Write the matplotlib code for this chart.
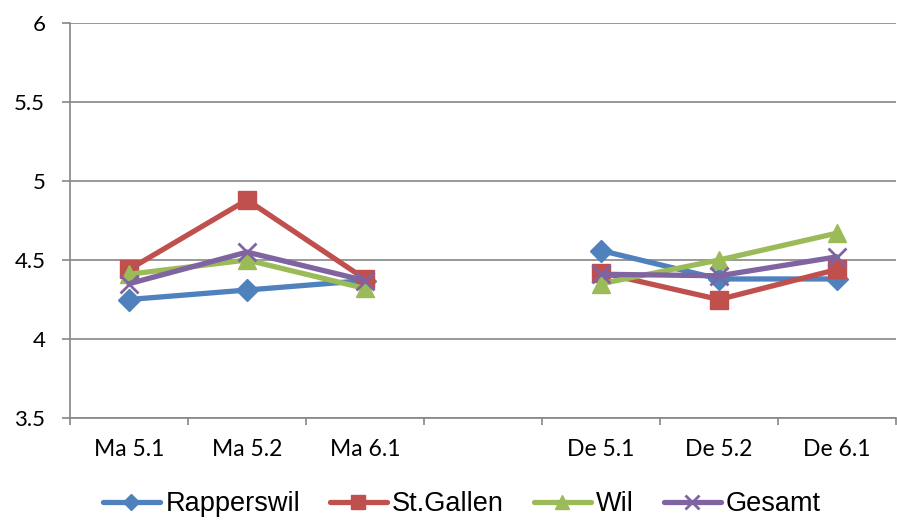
import numpy as np
import matplotlib
matplotlib.use("Agg")
import matplotlib.pyplot as plt

# categories (the empty one is the gap between the two groups)
categories = ["Ma 5.1", "Ma 5.2", "Ma 6.1", "", "De 5.1", "De 5.2", "De 6.1"]

rapperswil = [4.25, 4.31, 4.37, np.nan, 4.56, 4.38, 4.38]
st_gallen = [4.44, 4.88, 4.38, np.nan, 4.42, 4.25, 4.44]
wil = [4.41, 4.50, 4.32, np.nan, 4.35, 4.50, 4.67]
gesamt = [4.35, 4.55, 4.37, np.nan, 4.41, 4.40, 4.52]

y_ticks = [3.5, 4, 4.5, 5, 5.5, 6]
y_labels = ["3.5", "4", "4.5", "5", "5.5", "6"]

series = [
    ("Rapperswil", rapperswil, "#4F81BD", "D", 11),
    ("St.Gallen", st_gallen, "#C0504D", "s", 12.5),
    ("Wil", wil, "#9BBB59", "^", 13),
    ("Gesamt", gesamt, "#8064A2", "x", 13),
]

fig = plt.figure(figsize=(8.97, 5.21), dpi=100)
W, H = 897, 521
ax = fig.add_axes([70 / W, 1 - 418 / H, (896 - 70) / W, (418 - 23) / H])

x = np.arange(len(categories))
for name, vals, color, marker, ms in series:
    ax.plot(x, vals, color=color, linewidth=3.8, marker=marker, markersize=ms,
            markeredgewidth=2 if marker == "x" else 1, markeredgecolor=color,
            markerfacecolor=color, label=name, solid_capstyle="round", zorder=3)

ax.set_xlim(-0.5, len(categories) - 0.5)
ax.set_ylim(3.5, 6)
ax.set_yticks(y_ticks)
ax.set_yticklabels(y_labels, fontsize=16, family="Lato")
ax.yaxis.grid(True, color="#868686", linewidth=1.2)
ax.set_axisbelow(True)

# category labels at centres, tick marks on the boundaries
ax.set_xticks(x)
ax.set_xticklabels(categories, fontsize=16.5, family="Lato")
ax.tick_params(axis="x", which="major", length=0, pad=15)
ax.set_xticks(np.arange(-0.5, len(categories)), minor=True)
ax.tick_params(axis="x", which="minor", length=5, width=1.2, color="#868686", direction="out")
ax.tick_params(axis="y", length=5.8, width=1.2, color="#868686", direction="out", pad=12)

for side in ["top", "right"]:
    ax.spines[side].set_visible(False)
for side in ["left", "bottom"]:
    ax.spines[side].set_color("#868686")
    ax.spines[side].set_linewidth(1.2)

leg = fig.legend(loc="center", bbox_to_anchor=(462 / W, 1 - 504 / H), ncol=4, frameon=False,
                 prop={"family": "Liberation Sans", "size": 19.5}, handlelength=2.1,
                 columnspacing=1.1, handletextpad=0.2, borderpad=0, markerscale=0.75)

fig.savefig("out.png", dpi=100)
